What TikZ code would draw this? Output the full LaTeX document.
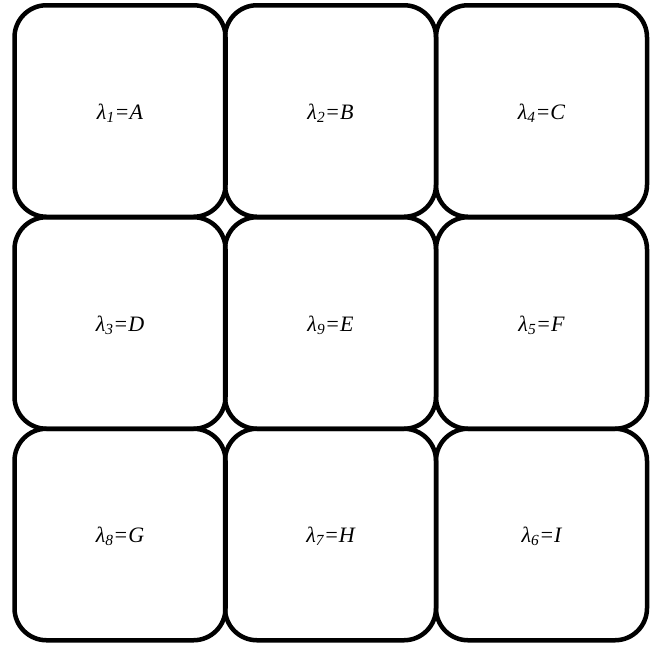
\documentclass[tikz,border=0pt]{standalone}
\usepackage{fontspec}
\setmainfont{Liberation Serif}
\begin{document}
\begin{tikzpicture}[x=1pt,y=-1pt,
  cell/.style={draw=black, line width=4.5pt, rounded corners=32pt, minimum width=211pt, minimum height=211.5pt, inner sep=0pt},
  txt/.style={inner sep=0pt, font=\fontsize{22}{24}\selectfont\itshape}]
\useasboundingbox (0,0) rectangle (656,646);
\node[cell] (a) at (120,111) {};
\node[cell] (b) at (330.5,111) {};
\node[cell] (c) at (541.5,111) {};
\node[cell] (d) at (120,323) {};
\node[cell] (e) at (330.5,323) {};
\node[cell] (f) at (541.5,323) {};
\node[cell] (g) at (120,534.5) {};
\node[cell] (h) at (330.5,534.5) {};
\node[cell] (i) at (541.5,534.5) {};
\node[txt] (ta) at ([yshift=-2pt]a.center) {λ\textsubscript{1}=A};
\node[txt] (tb) at ([yshift=-2pt]b.center) {λ\textsubscript{2}=B};
\node[txt] (tc) at ([yshift=-2pt]c.center) {λ\textsubscript{4}=C};
\node[txt] (td) at ([yshift=-2pt]d.center) {λ\textsubscript{3}=D};
\node[txt] (te) at ([yshift=-2pt]e.center) {λ\textsubscript{9}=E};
\node[txt] (tf) at ([yshift=-2pt]f.center) {λ\textsubscript{5}=F};
\node[txt] (tg) at ([yshift=-2pt]g.center) {λ\textsubscript{8}=G};
\node[txt] (th) at ([yshift=-2pt]h.center) {λ\textsubscript{7}=H};
\node[txt] (ti) at ([yshift=-2pt]i.center) {λ\textsubscript{6}=I};
\end{tikzpicture}
\end{document}
